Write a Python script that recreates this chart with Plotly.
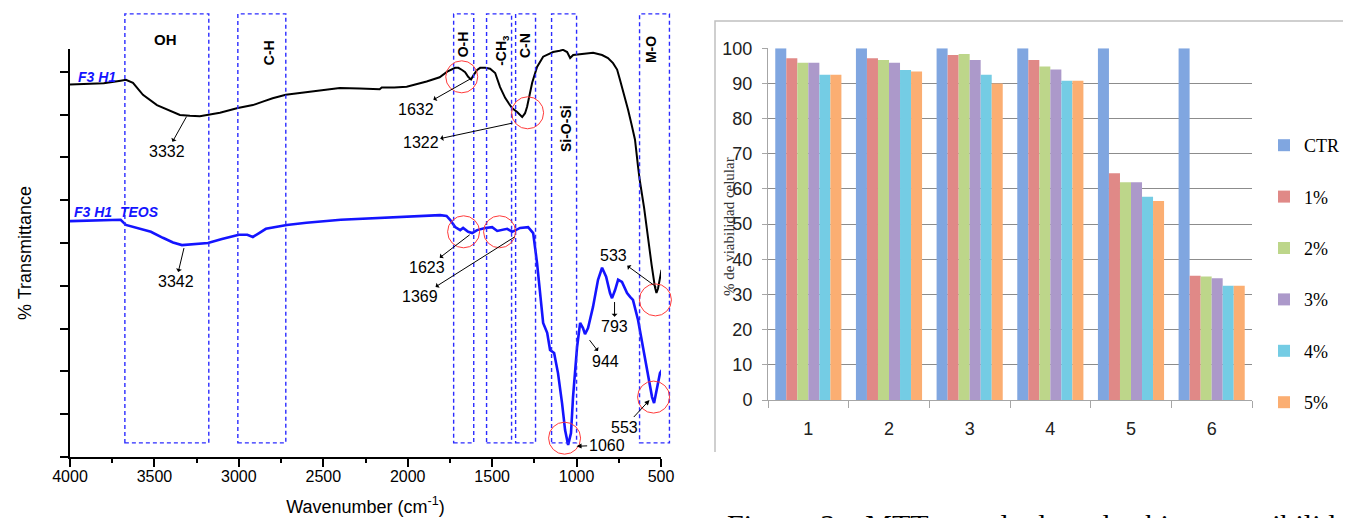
import plotly.graph_objects as go

# ---------------- Left panel: FTIR spectra ----------------
wn_f3h1 = [4000, 3800, 3700, 3669, 3627, 3568, 3485, 3408, 3349, 3290, 3231, 3189, 3112, 3006,
           2917, 2858, 2800, 2722, 2639, 2562, 2480, 2402, 2284, 2166, 2154, 2080, 2006, 1888,
           1811, 1766, 1719, 1700, 1678, 1660, 1642, 1625, 1610, 1589, 1571, 1540, 1512, 1482,
           1453, 1423, 1400, 1382, 1352, 1335, 1322, 1305, 1293, 1263, 1234, 1198, 1139, 1100,
           1080, 1056, 1038, 1020, 961, 902, 849, 814, 784, 760, 743, 720, 695, 675, 654, 636,
           626, 600, 577, 556, 536, 527, 518, 506, 497]
t_f3h1 = [87.0, 87.3, 87.9, 88.1, 87.4, 84.6, 82.2, 80.8, 79.9, 79.7, 79.6, 79.9, 80.4, 81.5,
          82.2, 83.0, 83.8, 84.6, 85.0, 85.5, 85.8, 86.2, 86.1, 85.9, 86.3, 86.3, 86.5, 87.7,
          88.7, 90.0, 90.9, 90.9, 90.4, 89.9, 88.8, 88.2, 89.2, 90.4, 90.9, 90.9, 90.7, 89.7,
          86.4, 83.9, 82.5, 81.5, 80.6, 79.8, 79.4, 80.3, 81.8, 87.4, 91.1, 93.5, 94.6, 94.9,
          95.1, 94.6, 93.2, 93.9, 94.2, 94.4, 93.9, 93.2, 92.0, 90.5, 88.1, 85.0, 81.1, 77.8,
          74.1, 67.8, 64.7, 58.2, 50.7, 45.0, 39.7, 38.3, 39.3, 42.1, 43.7]

wn_teos = [4000, 3850, 3700, 3669, 3600, 3521, 3450, 3390, 3337, 3250, 3183, 3100, 3000, 2950,
           2917, 2880, 2840, 2716, 2600, 2396, 2160, 2044, 1900, 1808, 1770, 1749, 1719, 1689,
           1672, 1642, 1618, 1589, 1541, 1500, 1470, 1441, 1411, 1382, 1364, 1334, 1287, 1257,
           1234, 1216, 1198, 1174, 1157, 1133, 1110, 1086, 1068, 1050, 1033, 1021, 997, 979,
           962, 950, 932, 903, 873, 849, 825, 802, 790, 772, 754, 731, 701, 683, 666, 636, 606,
           577, 553, 541, 524, 506, 494]
t_teos = [55.1, 55.3, 55.4, 54.2, 53.5, 52.6, 51.2, 50.1, 49.5, 49.8, 50.0, 50.9, 51.9, 51.9,
          51.4, 52.3, 53.3, 54.2, 54.7, 55.4, 55.8, 56.1, 56.3, 56.5, 56.3, 55.4, 53.7, 53.0,
          53.5, 52.6, 52.3, 53.0, 53.5, 53.7, 52.8, 53.0, 53.3, 52.6, 53.0, 53.5, 53.7, 52.3,
          45.3, 37.4, 31.3, 29.0, 25.0, 24.3, 19.6, 12.6, 6.3, 2.8, 5.6, 14.0, 25.7, 31.3,
          30.1, 28.7, 30.1, 35.0, 41.4, 44.2, 42.1, 38.3, 37.1, 39.0, 41.4, 40.9, 38.3, 37.4,
          36.7, 32.0, 25.7, 19.6, 14.0, 12.6, 15.7, 19.6, 20.3]

band_labels = ["OH", "C-H", "O-H", "-CH<sub>3</sub>", "C-N", "Si-O-Si", "M-O"]
band_hi = [3675, 3006, 1728, 1533, 1361, 1148, 627]
band_lo = [3178, 2722, 1609, 1385, 1243, 1000, 450]
band_label_wn = [3515, 2876, 1675, 1438, 1308, 1059, 562]
band_label_t = [100.0, 97.9, 99.8, 99.1, 99.5, 82.7, 98.8]
band_label_angle = [0, -90, -90, -90, -90, -90, -90]
band_label_size = [15, 14, 14, 14, 14, 14, 14]

peak_labels = ["3332", "1632", "1322", "3342", "1623", "1369", "533", "793", "944", "1060", "553"]
peak_wn = [3310, 1625, 1379, 3325, 1633, 1367, 527, 775, 923, 1000, 568]
peak_t = [79.5, 88.4, 78.0, 48.8, 51.9, 51.4, 39.7, 36.2, 27.3, 2.5, 13.3]
label_wn = [3426, 1953, 1923, 3373, 1888, 1929, 781, 775, 828, 822, 716]
label_t = [71.3, 81.1, 73.4, 40.9, 44.2, 37.4, 47.0, 30.4, 22.4, 2.8, 7.0]
head_at_label = [True, True, True, True, True, True, True, True, True, False, False]

circle_wn = [1680, 1290, 1669, 1456, 533, 544, 1071]
circle_t = [88.8, 80.4, 52.6, 52.6, 36.7, 14.0, 4.4]

# ---------------- Right panel: MTT viability ----------------
groups = ["1", "2", "3", "4", "5", "6"]
series_names = ["CTR", "1%", "2%", "3%", "4%", "5%"]
ctr = [100, 100, 100, 100, 100, 100]
p1 = [97.2, 97.2, 98.1, 96.7, 64.5, 35.3]
p2 = [95.9, 96.7, 98.4, 94.8, 61.9, 35.1]
p3 = [95.9, 95.9, 96.7, 94.0, 61.9, 34.6]
p4 = [92.5, 93.8, 92.5, 90.8, 57.8, 32.5]
p5 = [92.5, 93.4, 90.0, 90.8, 56.6, 32.5]
series_values = [ctr, p1, p2, p3, p4, p5]
series_colors = ["#80A6E0", "#E08987", "#BDD68A", "#AC99CA", "#74CCE4", "#FBAE72"]

W, H = 1351, 518
OFF = 8  # page body margin: the figure is drawn 8px right and 8px down


def px(xp):
    return (xp - OFF) / W


def py(yp):
    return 1 - (yp - OFF) / H


X_RANGE = [4000, 500]
Y_RANGE = [0, 95.3]
X_DOM = [px(70), px(661)]
Y_DOM = [py(457), py(49)]


def dx(w):
    return (w - X_RANGE[0]) / (X_RANGE[1] - X_RANGE[0])


def dy(v):
    return (v - Y_RANGE[0]) / (Y_RANGE[1] - Y_RANGE[0])


def paper_x(w):
    return X_DOM[0] + dx(w) * (X_DOM[1] - X_DOM[0])


def paper_y(v):
    return Y_DOM[0] + dy(v) * (Y_DOM[1] - Y_DOM[0])


SANS = "Liberation Sans, Arial, sans-serif"
NARROW = "Liberation Sans Narrow, Liberation Sans, Arial Narrow, sans-serif"
SERIF = "Liberation Serif, Times New Roman, serif"
BLUE = "#1414FF"

fig = go.Figure()

fig.add_trace(go.Scatter(x=wn_f3h1, y=t_f3h1, mode="lines", line=dict(color="black", width=2),
                         xaxis="x", yaxis="y", showlegend=False, hoverinfo="skip"))
fig.add_trace(go.Scatter(x=wn_teos, y=t_teos, mode="lines", line=dict(color=BLUE, width=2.6),
                         xaxis="x", yaxis="y", showlegend=False, hoverinfo="skip"))

for i, (name, vals, col) in enumerate(zip(series_names, series_values, series_colors)):
    fig.add_trace(go.Bar(x=groups, y=vals, name=name, marker=dict(color=col, line=dict(width=0)),
                         xaxis="x2", yaxis="y2", legendgroup=name, showlegend=True))

shapes = []
annotations = []

# dashed band boxes
for lo, hi in zip(band_lo, band_hi):
    shapes.append(dict(type="rect", xref="x domain", yref="y domain",
                       x0=dx(hi), x1=dx(lo), y0=dy(3.3), y1=dy(103.5),
                       line=dict(color="#2B2BFF", width=1.4, dash="4px,3px"), layer="above"))

# red circles
for w, v in zip(circle_wn, circle_t):
    shapes.append(dict(type="circle", xref="x domain", yref="y domain",
                       xsizemode="pixel", ysizemode="pixel",
                       xanchor=dx(w), yanchor=dy(v), x0=-16, x1=16, y0=-16, y1=16,
                       line=dict(color="#FF3B3B", width=1), layer="above"))

# frame of right chart (left + top edges)
shapes.append(dict(type="path", xref="paper", yref="paper",
                   path=f"M {px(715)} {py(452)} L {px(715)} {py(21)} L 1 {py(21)}",
                   line=dict(color="#C0C0C0", width=1.5)))

# band labels
for lab, w, v, ang, sz in zip(band_labels, band_label_wn, band_label_t, band_label_angle, band_label_size):
    annotations.append(dict(text=f"<b>{lab}</b>", xref="paper", yref="paper",
                            x=paper_x(w), y=paper_y(v), showarrow=False, textangle=ang,
                            font=dict(family=SANS, size=sz, color="black")))

# peak labels with arrows
for lab, pw, pt, lw, lt, hl in zip(peak_labels, peak_wn, peak_t, label_wn, label_t, head_at_label):
    annotations.append(dict(text=lab, xref="x", yref="y", x=pw, y=pt,
                            axref="x", ayref="y", ax=lw, ay=lt, showarrow=True,
                            arrowhead=2, arrowsize=1, arrowwidth=1, arrowcolor="black",
                            arrowside="start" if hl else "end",
                            font=dict(family=SANS, size=16, color="black")))

# sample labels
annotations.append(dict(text="<b><i>F3 H1</i></b>", xref="paper", yref="paper",
                        x=paper_x(3964), y=paper_y(91.2), xanchor="left", showarrow=False,
                        font=dict(family=SANS, size=14, color=BLUE)))
annotations.append(dict(text="<b><i>F3 H1&nbsp; TEOS</i></b>", xref="paper", yref="paper",
                        x=paper_x(3988), y=paper_y(57.2), xanchor="left", showarrow=False,
                        font=dict(family=SANS, size=14, color=BLUE)))

# right chart y title
annotations.append(dict(text="% de viabilidad celular", xref="paper", yref="paper",
                        x=px(729), y=py(227), textangle=-90, showarrow=False,
                        font=dict(family=SERIF, size=15, color="#333333")))

# caption (cropped at bottom)
annotations.append(dict(text="Figura  3.   MTT   resultados   de   biocompatibilidad",
                        xref="paper", yref="paper", x=px(725), y=py(506),
                        xanchor="left", yanchor="top", showarrow=False,
                        font=dict(family=SERIF, size=30, color="black")))

fig.update_layout(
    width=W, height=H,
    margin=dict(l=0, r=0, t=0, b=0, autoexpand=False),
    paper_bgcolor="white", plot_bgcolor="white",
    barmode="group", bargap=0.18, bargroupgap=0,
    shapes=shapes, annotations=annotations,
    xaxis=dict(domain=X_DOM, range=X_RANGE, anchor="y", automargin=False,
               tickvals=[4000, 3500, 3000, 2500, 2000, 1500, 1000, 500],
               ticks="outside", ticklen=8, tickwidth=1.5, tickcolor="black",
               ticklabelstandoff=-4,
               minor=dict(dtick=250, tick0=500, ticks="outside", ticklen=4, tickwidth=1.5, tickcolor="black"),
               showline=True, linecolor="black", linewidth=1.5, showgrid=False, zeroline=False,
               tickfont=dict(family=SANS, size=16, color="black"),
               title=dict(text="Wavenumber (cm<sup>-1</sup>)", standoff=16,
                          font=dict(family=SANS, size=18, color="black"))),
    yaxis=dict(domain=Y_DOM, range=Y_RANGE, anchor="x", automargin=False,
               dtick=10, tick0=0, ticks="outside", ticklen=8, tickwidth=1.5, tickcolor="black",
               showticklabels=False, showline=True, linecolor="black", linewidth=1.5,
               showgrid=False, zeroline=False,
               title=dict(text="% Transmittance", standoff=24,
                          font=dict(family=SANS, size=18, color="black"))),
    xaxis2=dict(domain=[px(768), px(1252)], anchor="y2", type="category", automargin=False,
                ticks="outside", tickson="boundaries", ticklen=7, tickcolor="#A6A6A6",
                ticklabelstandoff=12,
                showline=True, linecolor="#A6A6A6", linewidth=1, showgrid=False,
                tickfont=dict(family=NARROW, size=18, color="#222222")),
    yaxis2=dict(domain=[py(400), py(48.3)], anchor="x2", range=[0, 100], automargin=False,
                dtick=10, ticks="outside", ticklen=5, tickcolor="#A6A6A6",
                ticklabelstandoff=6,
                showline=True, linecolor="#A6A6A6", linewidth=1,
                showgrid=True, gridcolor="#8C8C8C", gridwidth=1, zeroline=False,
                tickfont=dict(family=NARROW, size=18, color="#222222")),
    legend=dict(x=px(1264), y=py(127), xanchor="left", yanchor="top",
                tracegroupgap=25, font=dict(family=SERIF, size=18, color="black"),
                bgcolor="rgba(0,0,0,0)", traceorder="grouped"),
)

fig.write_html("out.html")
